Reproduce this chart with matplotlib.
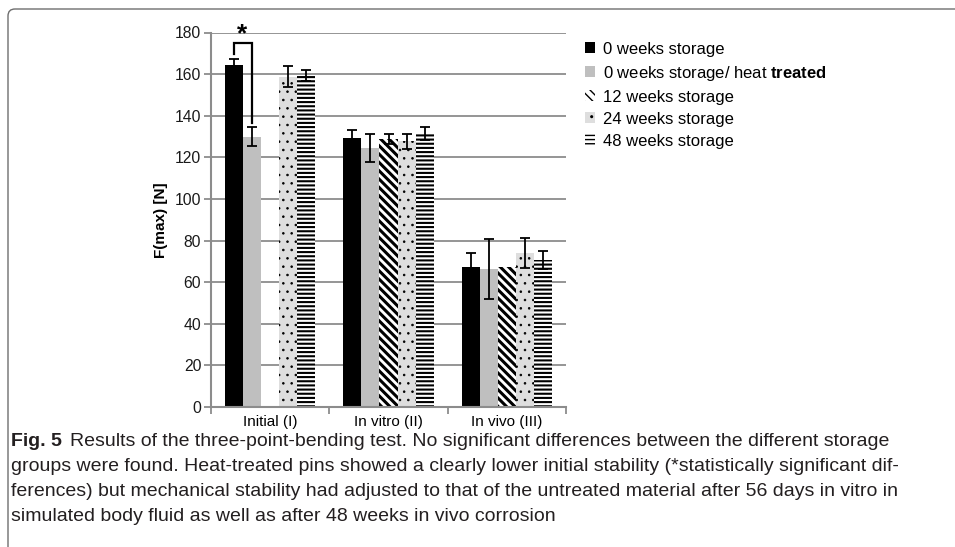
import matplotlib
matplotlib.use("Agg")
import matplotlib.pyplot as plt
import numpy as np
from matplotlib.patches import FancyBboxPatch
from matplotlib.transforms import IdentityTransform

plt.rcParams['font.family'] = ['Liberation Sans', 'DejaVu Sans']
plt.rcParams['mathtext.fontset'] = 'custom'
plt.rcParams['mathtext.rm'] = 'Liberation Sans'
plt.rcParams['mathtext.bf'] = 'Liberation Sans:bold'

categories = ["Initial (I)", "In vitro (II)", "In vivo (III)"]
series = ["0 weeks storage", r"0 weeks storage/ heat $\mathbf{treated}$",
          "12 weeks storage", "24 weeks storage", "48 weeks storage"]

w0 = [164.3, 129.3, 67.5]
w0_heat = [130.0, 124.5, 66.4]
w12 = [np.nan, 129.0, 67.2]
w24 = [158.7, 127.7, 74.0]
w48 = [159.5, 131.5, 70.7]

w0_err = [3.0, 3.7, 6.5]
w0_heat_err = [4.6, 6.9, 14.5]
w12_err = [0.0, 2.4, 0.0]
w24_err = [5.0, 3.6, 7.0]
w48_err = [2.7, 3.0, 4.5]

values = [w0, w0_heat, w12, w24, w48]
errors = [w0_err, w0_heat_err, w12_err, w24_err, w48_err]

# bar styles: facecolor, hatch, hatch linewidth
styles = [
    ("#000000", None, 1.0),
    ("#bfbfbf", None, 1.0),
    ("#ffffff", "\\\\\\\\", 2.2),
    ("#dedede", "..", 0.6),
    ("#ffffff", "----", 1.5),
]

fig = plt.figure(figsize=(9.55, 5.47), dpi=100)
ax = fig.add_axes([211 / 955, 140 / 547, 355 / 955, 374.5 / 547])

x = np.arange(len(categories))
width = 0.153
grid_col = "#8c8c8c"

for i, (vals, errs, (fc, hatch, hlw)) in enumerate(zip(values, errors, styles)):
    pos = x + (i - 2) * width
    with plt.rc_context({'hatch.linewidth': hlw}):
        bars = ax.bar(pos, vals, width, color=fc, edgecolor="black",
                      linewidth=0, hatch=hatch, label=series[i], zorder=2)
        for b in bars:
            if hasattr(b, "set_hatch_linewidth"):
                b.set_hatch_linewidth(hlw)
    e = np.array(errs, dtype=float)
    mask = ~np.isnan(np.array(vals, dtype=float)) & (e > 0)
    ax.errorbar(pos[mask], np.array(vals)[mask], yerr=e[mask], fmt="none",
                ecolor="black", elinewidth=1.3, capsize=3.5, capthick=1.3, zorder=3)

# significance bracket between black and grey bars of "Initial"
xl = x[0] - 2 * width
xr = x[0] - 1 * width
ax.plot([xl, xl, xr, xr], [169.5, 174.8, 174.8, 136.5], color="black",
        lw=1.6, zorder=4, clip_on=False, solid_joinstyle="miter")
ax.text((xl + xr) / 2 - 0.01, 173.5, "*", ha="center", va="bottom",
        fontsize=19, fontweight="bold", clip_on=False)

ax.set_xlim(-0.5, 2.5)
ax.set_ylim(0, 180)
ax.set_yticks(np.arange(0, 181, 20))
ax.yaxis.grid(True, color=grid_col, lw=1.3)
ax.set_axisbelow(True)
ax.set_xticks([-0.5, 0.5, 1.5, 2.5])
ax.set_xticklabels([])
ax.set_xticks(x, minor=True)
ax.set_xticklabels(categories, minor=True)
ax.tick_params(axis="x", which="minor", length=0, pad=6, labelsize=11)
ax.tick_params(axis="x", which="major", length=5, color=grid_col, width=1.3)
ax.tick_params(axis="y", length=5, color=grid_col, width=1.3, labelsize=11.3,
               pad=2, labelcolor="#1a1a1a")
for s in ["top", "right"]:
    ax.spines[s].set_visible(False)
for s in ["left", "bottom"]:
    ax.spines[s].set_color(grid_col)
    ax.spines[s].set_linewidth(1.5)
ax.set_ylabel("F(max) [N]", fontsize=11, fontweight="bold", labelpad=5)

leg = ax.legend(loc="upper left", bbox_to_anchor=(578 / 955, 1 - 35 / 547),
                bbox_transform=fig.transFigure, frameon=False, fontsize=12,
                handlelength=0.62, handleheight=0.62, handletextpad=0.45,
                labelspacing=0.42, borderaxespad=0)

# panel frame (top and left edges with rounded corner)
frame = FancyBboxPatch((8, -40), 1100, 547 - 9 + 40,
                       boxstyle="round,pad=0,rounding_size=7",
                       transform=IdentityTransform(), fill=False,
                       edgecolor="#6e6e6e", lw=1.0)
fig.add_artist(frame)

cap_size = 14
cap_col = "#231f20"
lines = [
    "Results of the three-point-bending test. No significant differences between the different storage",
    "groups were found. Heat-treated pins showed a clearly lower initial stability (*statistically significant dif-",
    "ferences) but mechanical stability had adjusted to that of the untreated material after 56 days in vitro in",
    "simulated body fluid as well as after 48 weeks in vivo corrosion",
]
y0 = 1 - 441 / 547
fig.text(11 / 955, y0, "Fig. 5", fontsize=cap_size, fontweight="bold",
         va="center", color=cap_col)
fig.text(70 / 955, y0, lines[0], fontsize=cap_size, va="center", color=cap_col)
for k, ln in enumerate(lines[1:], start=1):
    fig.text(11 / 955, y0 - k * 25.3 / 547, ln, fontsize=cap_size,
             va="center", color=cap_col)

fig.savefig("out.png", dpi=100)
